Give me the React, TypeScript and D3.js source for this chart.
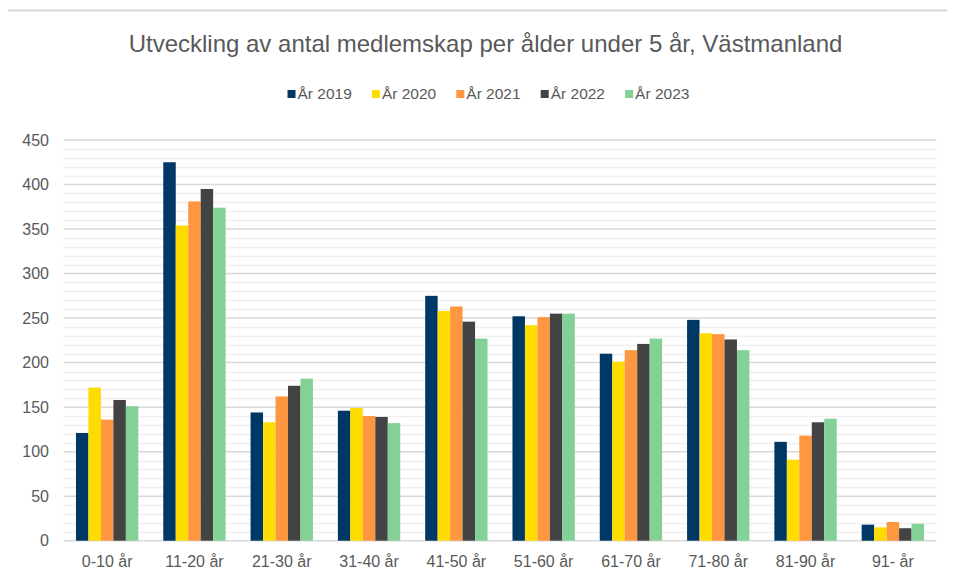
import React, { useEffect, useRef } from "react";
import * as d3 from "d3";

const categories = ["0-10 år", "11-20 år", "21-30 år", "31-40 år", "41-50 år", "51-60 år", "61-70 år", "71-80 år", "81-90 år", "91- år"];
const seriesNames = ["År 2019", "År 2020", "År 2021", "År 2022", "År 2023"];
const colors = ["#003865", "#ffdc00", "#ff9640", "#434343", "#84d197"];
const values2019 = [121, 425, 144, 146, 275, 252, 210, 248, 111, 18];
const values2020 = [172, 354, 133, 149, 258, 242, 201, 233, 91, 15];
const values2021 = [136, 381, 162, 140, 263, 251, 214, 232, 118, 21];
const values2022 = [158, 395, 174, 139, 246, 255, 221, 226, 133, 14];
const values2023 = [151, 374, 182, 132, 227, 255, 227, 214, 137, 19];
const yTicks = [0, 50, 100, 150, 200, 250, 300, 350, 400, 450];
const title = "Utveckling av antal medlemskap per ålder under 5 år, Västmanland";

const App = () => {
    const container = useRef<HTMLDivElement>(null);

    useEffect(() => {
        const el = container.current;
        if (!el) return;
        el.innerHTML = "";

        const W = 955, H = 579;
        const left = 63.5, right = 936.5, top = 140, bottom = 540.7;
        const font = "'Liberation Sans', Arial, sans-serif";
        const textColor = "#595959";

        const allValues = [values2019, values2020, values2021, values2022, values2023];

        const svg = d3.select(el)
            .append("svg")
            .attr("width", W)
            .attr("height", H)
            .style("display", "block");

        svg.append("rect").attr("width", W).attr("height", H).attr("fill", "#fff");
        // outer chart border
        svg.append("rect")
            .attr("x", 5.5).attr("y", 10.5)
            .attr("width", W + 10).attr("height", H + 10)
            .attr("fill", "none").attr("stroke", "#d9d9d9").attr("stroke-width", 2);

        const y = d3.scaleLinear().domain([0, 450]).range([bottom, top]);
        const x0 = d3.scaleBand().domain(categories).range([left, right]).padding(0);
        const x1 = d3.scaleBand().domain(seriesNames).range([0, x0.bandwidth()]).paddingInner(0).paddingOuter(1);

        // minor gridlines
        svg.append("g")
            .selectAll("line")
            .data(d3.range(10, 450, 10).filter((v) => v % 50 !== 0))
            .enter()
            .append("line")
            .attr("x1", left).attr("x2", right)
            .attr("y1", (d) => Math.round(y(d)) + 0.5)
            .attr("y2", (d) => Math.round(y(d)) + 0.5)
            .attr("stroke", "#f0f0f0").attr("stroke-width", 1.5);

        // major gridlines
        svg.append("g")
            .selectAll("line")
            .data(yTicks)
            .enter()
            .append("line")
            .attr("x1", left).attr("x2", right)
            .attr("y1", (d) => y(d))
            .attr("y2", (d) => y(d))
            .attr("stroke", "#d9d9d9").attr("stroke-width", 1.5);

        // y labels
        svg.append("g")
            .selectAll("text")
            .data(yTicks)
            .enter()
            .append("text")
            .attr("x", 49)
            .attr("y", (d) => y(d))
            .attr("dy", "0.36em")
            .attr("text-anchor", "end")
            .attr("font-family", font)
            .attr("font-size", 16)
            .attr("fill", textColor)
            .text((d) => d);

        // bars
        seriesNames.forEach((s, si) => {
            svg.append("g")
                .selectAll("rect")
                .data(allValues[si])
                .enter()
                .append("rect")
                .attr("x", (d, i) => x0(categories[i])! + x1(s)!)
                .attr("y", (d) => y(d))
                .attr("width", x1.bandwidth())
                .attr("height", (d) => bottom - y(d))
                .attr("fill", colors[si]);
        });

        // x labels
        svg.append("g")
            .selectAll("text")
            .data(categories)
            .enter()
            .append("text")
            .attr("x", (d) => x0(d)! + x0.bandwidth() / 2)
            .attr("y", 567)
            .attr("text-anchor", "middle")
            .attr("font-family", font)
            .attr("font-size", 16)
            .attr("fill", textColor)
            .text((d) => d);

        // title
        svg.append("text")
            .attr("x", 485.5)
            .attr("y", 52)
            .attr("text-anchor", "middle")
            .attr("font-family", font)
            .attr("font-size", 24)
            .attr("fill", textColor)
            .text(title);

        // legend
        const legend = svg.append("g")
            .selectAll("g")
            .data(seriesNames)
            .enter()
            .append("g")
            .attr("transform", (d, i) => `translate(${287.5 + i * 84.4},0)`);
        legend.append("rect")
            .attr("x", 0).attr("y", 90)
            .attr("width", 8).attr("height", 8)
            .attr("fill", (d, i) => colors[i]);
        legend.append("text")
            .attr("x", 10)
            .attr("y", 99)
            .attr("font-family", font)
            .attr("font-size", 15.5)
            .attr("fill", textColor)
            .text((d) => d);
    }, []);

    return <div ref={container} style={{ margin: -8 }}></div>;
};

export default App;
